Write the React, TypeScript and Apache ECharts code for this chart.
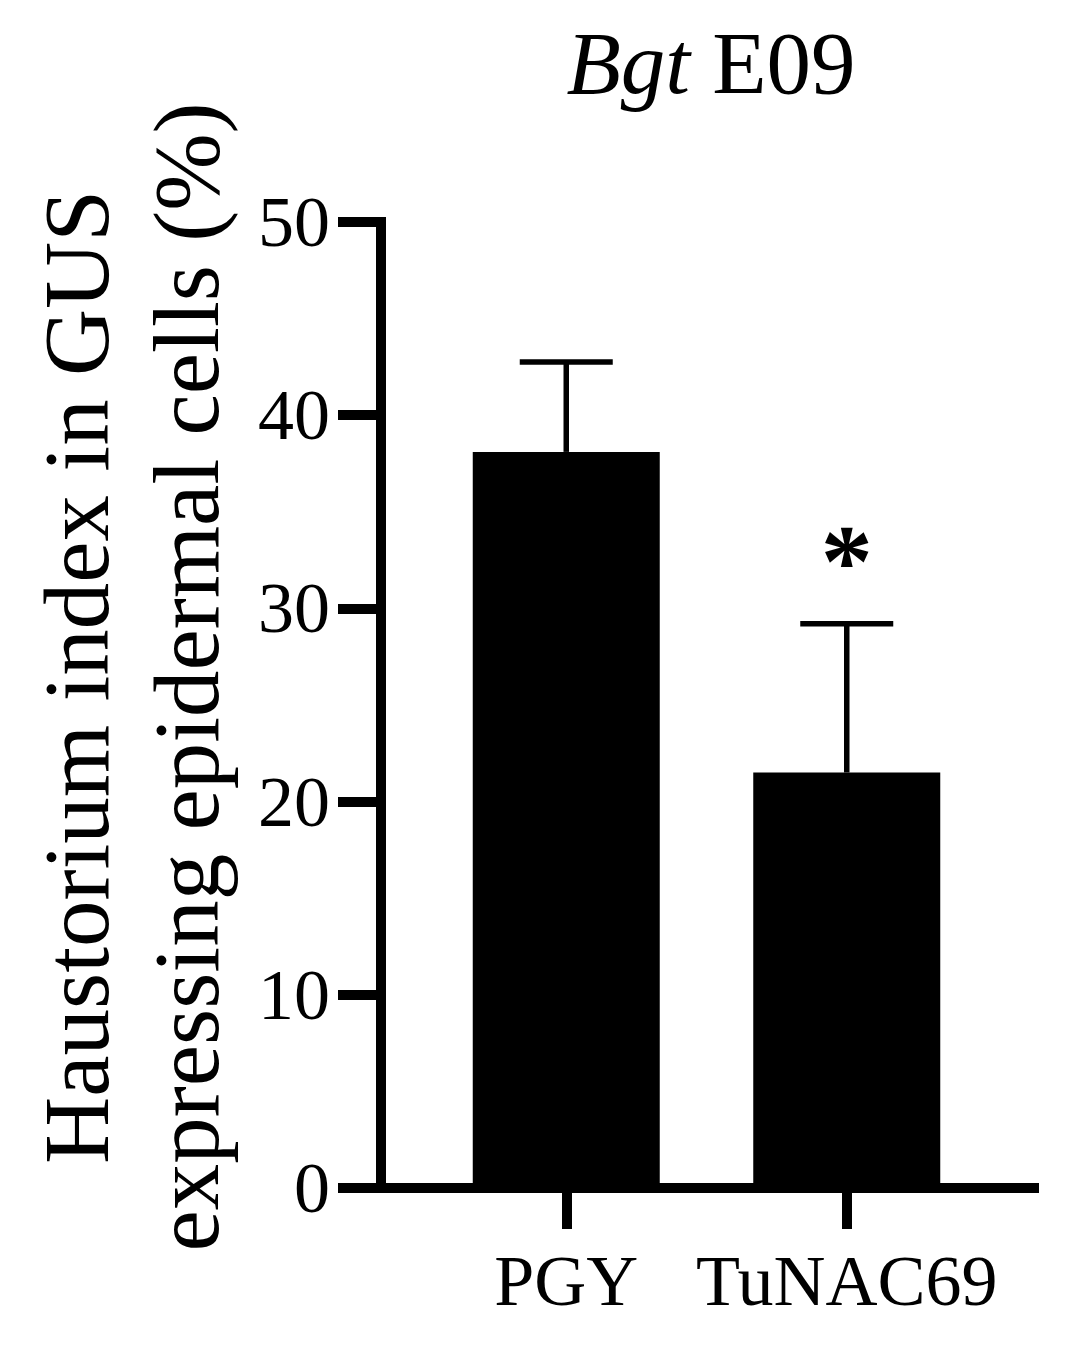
import React, { useEffect, useRef } from "react";
import * as echarts from "echarts";

const categories = ["PGY", "TuNAC69"];
const means = [38.1, 21.5];
const errors = [4.65, 7.7];
const significance = ["", "*"];
const yTicks = { min: 0, max: 50, interval: 10 };

const FONT = '"Liberation Serif", "Times New Roman", Times, serif';

export default function App() {
  const ref = useRef<HTMLDivElement>(null);

  useEffect(() => {
    document.body.style.margin = "0";
    if (!ref.current) return;
    const chart = echarts.init(ref.current, undefined, { renderer: "svg" });

    const errData = categories.map((_, i) => [i, means[i], errors[i]]);

    const option: any = {
      animation: false,
      backgroundColor: "#ffffff",
      grid: { left: 426, width: 561, top: 222, height: 966 },
      xAxis: {
        type: "category",
        data: categories,
        axisLine: { show: false },
        axisTick: {
          show: true,
          interval: 0,
          alignWithLabel: true,
          length: 41,
          lineStyle: { color: "#000", width: 10 },
        },
        axisLabel: {
          interval: 0,
          hideOverlap: false,
          color: "#000",
          fontSize: 72,
          fontFamily: FONT,
          margin: 57,
        },
      },
      yAxis: {
        type: "value",
        min: yTicks.min,
        max: yTicks.max,
        interval: yTicks.interval,
        offset: 45,
        axisLine: { show: true, lineStyle: { color: "#000", width: 10, cap: "square" } },
        axisTick: { show: true, length: 43, lineStyle: { color: "#000", width: 10 } },
        axisLabel: { color: "#000", fontSize: 72, fontFamily: FONT, margin: 51 },
        splitLine: { show: false },
      },
      series: [
        {
          type: "bar",
          data: means,
          barWidth: 187,
          itemStyle: { color: "#000" },
          z: 2,
        },
        {
          type: "custom",
          data: errData,
          z: 3,
          renderItem: (params: any, api: any) => {
            const cat = api.value(0);
            const m = api.value(1);
            const e = api.value(2);
            const base = api.coord([cat, m]);
            const top = api.coord([cat, m + e]);
            const half = 46.5;
            const children: any[] = [
              {
                type: "line",
                shape: { x1: base[0], y1: base[1], x2: top[0], y2: top[1] },
                style: { stroke: "#000", lineWidth: 5.5 },
              },
              {
                type: "line",
                shape: { x1: top[0] - half, y1: top[1], x2: top[0] + half, y2: top[1] },
                style: { stroke: "#000", lineWidth: 5.5 },
              },
            ];
            const sig = significance[params.dataIndex];
            if (sig) {
              children.push({
                type: "text",
                x: top[0],
                y: top[1] - 63,
                style: {
                  text: sig,
                  fill: "#000",
                  fontSize: 104,
                  fontWeight: "bold",
                  fontFamily: FONT,
                  align: "center",
                  verticalAlign: "middle",
                },
              });
            }
            return { type: "group", children };
          },
        },
      ],
      graphic: [
        {
          type: "line",
          shape: { x1: 339, y1: 1188, x2: 1039, y2: 1188 },
          style: { stroke: "#000", lineWidth: 10 },
          z: 10,
        },
        {
          type: "text",
          x: 711,
          y: 63,
          style: {
            text: "{i|Bgt} E09",
            fill: "#000",
            fontSize: 89,
            fontFamily: FONT,
            align: "center",
            verticalAlign: "middle",
            rich: {
              i: { fontStyle: "italic", fontSize: 89, fontFamily: FONT, fill: "#000" },
            },
          },
        },
        {
          type: "text",
          x: 131,
          y: 677,
          rotation: Math.PI / 2,
          style: {
            text: "Haustorium index in GUS\nexpressing epidermal cells (%)",
            fill: "#000",
            fontSize: 93,
            lineHeight: 110,
            fontFamily: FONT,
            align: "center",
            verticalAlign: "middle",
          },
        },
      ],
    };

    chart.setOption(option);
    return () => chart.dispose();
  }, []);

  return <div ref={ref} style={{ width: 1092, height: 1349 }} />;
}
